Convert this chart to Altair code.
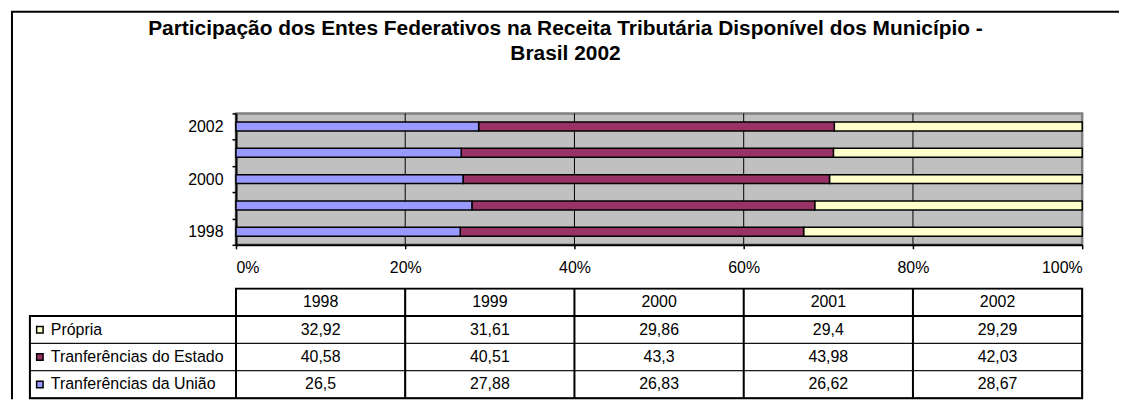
import altair as alt
import pandas as pd

FONT = "Liberation Sans"

years = ["1998", "1999", "2000", "2001", "2002"]
series = ["Própria", "Tranferências do Estado", "Tranferências da União"]
propria = [32.92, 31.61, 29.86, 29.4, 29.29]
estado = [40.58, 40.51, 43.3, 43.98, 42.03]
uniao = [26.5, 27.88, 26.83, 26.62, 28.67]
colors = ["#FFFFCC", "#993366", "#9999FF"]
stack_pos = [2, 1, 0]
title_lines = [
    "Participação dos Entes Federativos na Receita Tributária Disponível dos Município -",
    "Brasil 2002",
]
x_ticks = [0, 0.2, 0.4, 0.6, 0.8, 1.0]
grid_vals = [0.2, 0.4, 0.6, 0.8]

recs = []
for s, vals, o in zip(series, [propria, estado, uniao], stack_pos):
    for y, v in zip(years, vals):
        recs.append({"year": y, "row": s, "value": v,
                     "label": str(v).replace(".", ","), "ord": o})
df = pd.DataFrame(recs)
df_hdr = pd.DataFrame({"year": years, "row": ["hdr"] * len(years), "label": years})
df_ser = pd.DataFrame({"row": series})
df_grid = pd.DataFrame({"value": grid_vals})
one = pd.DataFrame({"a": [0]})

color_scale = alt.Scale(domain=series, range=colors)

x_axis = alt.Axis(values=x_ticks, format="%", title=None, grid=False,
                  domainColor="black", domainWidth=2, tickColor="black",
                  tickWidth=1.5, tickSize=4, labelFontSize=16, labelPadding=11,
                  labelColor="black", labelFont=FONT)
x_scale = alt.Scale(domain=[0, 1], nice=False)

grid = alt.Chart(df_grid).mark_rule(color="black", strokeWidth=1).encode(
    x=alt.X("value:Q", scale=x_scale, axis=x_axis)
)

bars = alt.Chart(df).mark_bar(size=9, stroke="black", strokeWidth=1.5).encode(
    x=alt.X("sum(value):Q", stack="normalize", scale=x_scale, axis=x_axis),
    y=alt.Y("year:O", sort="descending",
            scale=alt.Scale(paddingInner=0, paddingOuter=0),
            axis=alt.Axis(title=None, tickBand="extent",
                          labelExpr="toNumber(datum.value) % 2 == 0 ? datum.label : ''",
                          domainColor="black", domainWidth=2, tickColor="black",
                          tickWidth=1.5, tickSize=4, labelFontSize=16,
                          labelPadding=9, labelColor="black", labelFont=FONT)),
    color=alt.Color("row:N", scale=color_scale, legend=None),
    order=alt.Order("ord:Q"),
)

frame_left = alt.Chart(one).mark_rule(color="black", strokeWidth=2).encode(
    x=alt.value(-225), y=alt.value(-102), y2=alt.value(287)
)
frame_top = alt.Chart(one).mark_rule(color="black", strokeWidth=2).encode(
    x=alt.value(-226), x2=alt.value(887), y=alt.value(-102)
)
t1 = alt.Chart(pd.DataFrame({"t": [title_lines[0]]})).mark_text(
    fontSize=21, fontWeight="bold", font=FONT, color="black", baseline="middle"
).encode(x=alt.value(331), y=alt.value(-85), text="t:N")
t2 = alt.Chart(pd.DataFrame({"t": [title_lines[1]]})).mark_text(
    fontSize=21, fontWeight="bold", font=FONT, color="black", baseline="middle"
).encode(x=alt.value(331), y=alt.value(-60), text="t:N")

top = alt.layer(grid, bars, frame_left, frame_top, t1, t2).properties(
    width=850, height=132,
    view=alt.ViewBackground(fill="#C0C0C0", stroke="#808080", strokeWidth=2.5),
)

# ---- data table ----
TH = 110
row_domain = ["hdr"] + series
yscale = alt.Scale(domain=row_domain, paddingInner=0, paddingOuter=0)
xscale = alt.Scale(domain=years, paddingInner=0, paddingOuter=0)
Xy = alt.X("year:O", scale=xscale, axis=None)
Yr = alt.Y("row:N", scale=yscale, axis=None)

lab_cells = alt.Chart(df_ser).mark_rect(fill="white", stroke="black", strokeWidth=1).encode(
    x=alt.value(-207), x2=alt.value(0), y=Yr
)
body_cells = alt.Chart(df).mark_rect(fill="white", stroke="black", strokeWidth=1).encode(
    x=Xy, y=Yr
)
hdr_cells = alt.Chart(df_hdr).mark_rect(fill="white", stroke="black", strokeWidth=1).encode(
    x=Xy, y=Yr
)
vlines = alt.Chart(df_hdr).mark_rule(color="black", strokeWidth=2).encode(
    x=alt.X("year:O", scale=xscale, axis=None, bandPosition=0),
    y=alt.value(0), y2=alt.value(TH)
)
hdr_box = alt.Chart(one).mark_rect(fill=None, fillOpacity=0, stroke="black", strokeWidth=2).encode(
    x=alt.value(0), x2=alt.value(850), y=alt.value(0), y2=alt.value(TH / 4)
)
body_box = alt.Chart(one).mark_rect(fill=None, fillOpacity=0, stroke="black", strokeWidth=2).encode(
    x=alt.value(-207), x2=alt.value(850), y=alt.value(TH / 4), y2=alt.value(TH)
)
body_txt = alt.Chart(df).mark_text(fontSize=16, font=FONT, color="black", baseline="middle").encode(
    x=Xy, y=Yr, text="label:N"
)
hdr_txt = alt.Chart(df_hdr).mark_text(fontSize=16, font=FONT, color="black", baseline="middle").encode(
    x=Xy, y=Yr, text="label:N"
)
lab_txt = alt.Chart(df_ser).mark_text(fontSize=16, font=FONT, color="black", baseline="middle",
                                      align="left").encode(
    x=alt.value(-186), y=Yr, text="row:N"
)
squares = alt.Chart(df_ser).mark_square(size=42, stroke="black", strokeWidth=1.5, opacity=1).encode(
    x=alt.value(-197), y=Yr,
    fill=alt.Fill("row:N", scale=color_scale, legend=None)
)

table = alt.layer(lab_cells, body_cells, hdr_cells, body_txt, hdr_txt, lab_txt,
                  squares, vlines, hdr_box, body_box).properties(
    width=850, height=TH,
    view=alt.ViewBackground(stroke=None, fill=None),
)

chart = alt.vconcat(top, table, spacing=44, bounds="flush").properties(
    padding=0, background="white"
).configure(font=FONT).configure_view(strokeWidth=0)

chart.save("out.html", embed_options={"renderer": "svg", "actions": False})
